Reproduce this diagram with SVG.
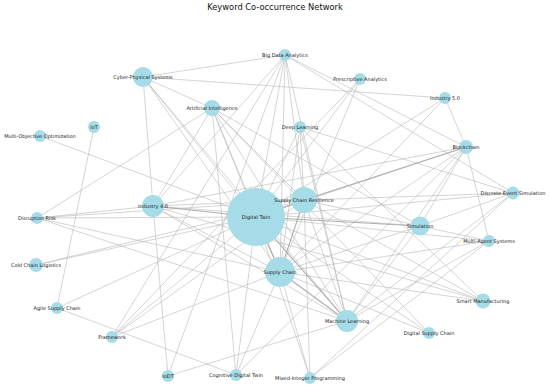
<svg xmlns="http://www.w3.org/2000/svg" width="550" height="388" viewBox="0 0 550 388">
<style>
.e{stroke:#b4b4b4;stroke-width:0.7;stroke-opacity:0.8;fill:none}
.w{stroke:#9a9a9a;stroke-width:1.1}
.n{fill:#a6dbe8}
.l{font-family:"DejaVu Sans",sans-serif;font-size:5px;fill:#222;text-anchor:middle;dominant-baseline:central}
.t{font-family:"DejaVu Sans",sans-serif;font-size:8.3px;fill:#111;text-anchor:middle}
</style>
<rect width="550" height="388" fill="#fff"/>
<text class="t" x="275" y="10">Keyword Co-occurrence Network</text>
<g id="edges">
<!-- CPS -->
<line class="e" x1="143" y1="77" x2="285" y2="55"/>
<line class="e" x1="143" y1="77" x2="445" y2="98"/>
<line class="e" x1="143" y1="77" x2="212" y2="108"/>
<line class="e" x1="143" y1="77" x2="153" y2="206"/>
<line class="e" x1="143" y1="77" x2="256" y2="217"/>
<line class="e" x1="143" y1="77" x2="280" y2="272"/>
<line class="e" x1="143" y1="77" x2="347" y2="321"/>
<!-- BDA -->
<line class="e" x1="285" y1="55" x2="256" y2="217"/>
<line class="e" x1="285" y1="55" x2="280" y2="272"/>
<line class="e" x1="285" y1="55" x2="304" y2="200"/>
<line class="e" x1="285" y1="55" x2="466" y2="147"/>
<line class="e" x1="285" y1="55" x2="153" y2="206"/>
<line class="e" x1="285" y1="55" x2="347" y2="321"/>
<line class="e" x1="285" y1="55" x2="513" y2="193"/>
<!-- PA -->
<line class="e" x1="360" y1="79" x2="112" y2="337"/>
<line class="e" x1="360" y1="79" x2="256" y2="217"/>
<line class="e" x1="360" y1="79" x2="280" y2="272"/>
<!-- I5 -->
<line class="e" x1="445" y1="98" x2="256" y2="217"/>
<line class="e" x1="445" y1="98" x2="280" y2="272"/>
<line class="e" x1="445" y1="98" x2="466" y2="147"/>
<!-- AI -->
<line class="e" x1="212" y1="108" x2="37" y2="218"/>
<line class="e" x1="212" y1="108" x2="256" y2="217"/>
<line class="e" x1="212" y1="108" x2="280" y2="272"/>
<line class="e" x1="212" y1="108" x2="347" y2="321"/>
<line class="e" x1="212" y1="108" x2="304" y2="200"/>
<line class="e" x1="212" y1="108" x2="420" y2="226"/>
<line class="e" x1="212" y1="108" x2="429" y2="333"/>
<line class="e" x1="212" y1="108" x2="236" y2="375"/>
<line class="e" x1="212" y1="108" x2="153" y2="206"/>
<!-- DL -->
<line class="e" x1="300" y1="127" x2="256" y2="217"/>
<line class="e" x1="300" y1="127" x2="280" y2="272"/>
<line class="e" x1="300" y1="127" x2="347" y2="321"/>
<line class="e" x1="300" y1="127" x2="513" y2="193"/>
<line class="e" x1="300" y1="127" x2="304" y2="200"/>
<line class="e" x1="300" y1="127" x2="483" y2="301"/>
<!-- IoT, MOO -->
<line class="e" x1="94" y1="127" x2="57" y2="308"/>
<line class="e" x1="40" y1="136" x2="256" y2="217"/>
<!-- DR -->
<line class="e" x1="37" y1="218" x2="153" y2="206"/>
<line class="e" x1="37" y1="218" x2="304" y2="200"/>
<line class="e" x1="37" y1="218" x2="256" y2="217"/>
<line class="e" x1="37" y1="218" x2="347" y2="321"/>
<line class="e" x1="37" y1="218" x2="280" y2="272"/>
<!-- CCL, ASC -->
<line class="e" x1="36" y1="265" x2="256" y2="217"/>
<line class="e" x1="36" y1="265" x2="304" y2="200"/>
<line class="e" x1="57" y1="308" x2="256" y2="217"/>
<line class="e" x1="57" y1="308" x2="236" y2="375"/>
<!-- FW -->
<line class="e" x1="112" y1="337" x2="256" y2="217"/>
<line class="e" x1="112" y1="337" x2="280" y2="272"/>
<line class="e" x1="112" y1="337" x2="285" y2="55"/>
<line class="e" x1="112" y1="337" x2="304" y2="200"/>
<!-- IoDT -->
<line class="e" x1="168" y1="376" x2="153" y2="206"/>
<line class="e" x1="168" y1="376" x2="347" y2="321"/>
<line class="e" x1="168" y1="376" x2="285" y2="55"/>
<!-- CDT -->
<line class="e" x1="236" y1="375" x2="256" y2="217"/>
<line class="e" x1="236" y1="375" x2="280" y2="272"/>
<line class="e" x1="236" y1="375" x2="466" y2="147"/>
<!-- MIP -->
<line class="e" x1="310" y1="378" x2="256" y2="217"/>
<line class="e" x1="310" y1="378" x2="304" y2="200"/>
<line class="e" x1="310" y1="378" x2="489" y2="241"/>
<line class="e" x1="310" y1="378" x2="513" y2="193"/>
<line class="e" x1="310" y1="378" x2="280" y2="272"/>
<!-- DSC -->
<line class="e" x1="429" y1="333" x2="256" y2="217"/>
<line class="e" x1="429" y1="333" x2="280" y2="272"/>
<!-- SM -->
<line class="e" x1="483" y1="301" x2="256" y2="217"/>
<line class="e" x1="483" y1="301" x2="280" y2="272"/>
<line class="e" x1="483" y1="301" x2="153" y2="206"/>
<line class="e" x1="483" y1="301" x2="304" y2="200"/>
<!-- DES -->
<line class="e" x1="513" y1="193" x2="256" y2="217"/>
<line class="e" x1="513" y1="193" x2="304" y2="200"/>
<line class="e" x1="513" y1="193" x2="347" y2="321"/>
<line class="e" x1="513" y1="193" x2="420" y2="226"/>
<!-- MAS -->
<line class="e" x1="489" y1="241" x2="420" y2="226"/>
<line class="e" x1="489" y1="241" x2="256" y2="217"/>
<line class="e" x1="489" y1="241" x2="280" y2="272"/>
<line class="e" x1="489" y1="241" x2="347" y2="321"/>
<line class="e" x1="489" y1="241" x2="466" y2="147"/>
<!-- BC -->
<line class="e w" x1="466" y1="147" x2="304" y2="200"/>
<line class="e" x1="466" y1="147" x2="256" y2="217"/>
<line class="e" x1="466" y1="147" x2="420" y2="226"/>
<line class="e" x1="466" y1="147" x2="347" y2="321"/>
<line class="e" x1="466" y1="147" x2="280" y2="272"/>
<line class="e" x1="466" y1="147" x2="153" y2="206"/>
<!-- SIM -->
<line class="e w" x1="420" y1="226" x2="256" y2="217"/>
<line class="e" x1="420" y1="226" x2="304" y2="200"/>
<line class="e" x1="420" y1="226" x2="280" y2="272"/>
<line class="e" x1="420" y1="226" x2="153" y2="206"/>
<line class="e" x1="420" y1="226" x2="347" y2="321"/>
<!-- I4 -->
<line class="e w" x1="153" y1="206" x2="256" y2="217"/>
<line class="e" x1="153" y1="206" x2="280" y2="272"/>
<line class="e" x1="153" y1="206" x2="304" y2="200"/>
<line class="e" x1="153" y1="206" x2="347" y2="321"/>
<!-- core -->
<line class="e w" x1="256" y1="217" x2="280" y2="272"/>
<line class="e w" x1="256" y1="217" x2="304" y2="200"/>
<line class="e w" x1="256" y1="217" x2="347" y2="321"/>
<line class="e w" x1="280" y1="272" x2="304" y2="200"/>
<line class="e w" x1="280" y1="272" x2="347" y2="321"/>
<line class="e" x1="304" y1="200" x2="347" y2="321"/>
</g>
<g id="n-dt"><circle class="n" cx="256" cy="217" r="29"/><text class="l" x="256" y="217">Digital Twin</text></g>
<g id="n-sc"><circle class="n" cx="280" cy="272" r="15"/><text class="l" x="280" y="272">Supply Chain</text></g>
<g id="n-scr"><circle class="n" cx="304" cy="200" r="13"/><text class="l" x="304" y="200">Supply Chain Resilience</text></g>
<g id="n-i4"><circle class="n" cx="153" cy="206" r="11"/><text class="l" x="153" y="206">Industry 4.0</text></g>
<g id="n-ml"><circle class="n" cx="347" cy="321" r="11"/><text class="l" x="347" y="321">Machine Learning</text></g>
<g id="n-sim"><circle class="n" cx="420" cy="226" r="9.5"/><text class="l" x="420" y="226">Simulation</text></g>
<g id="n-cps"><circle class="n" cx="143" cy="77" r="10"/><text class="l" x="143" y="77">Cyber-Physical Systems</text></g>
<g id="n-ai"><circle class="n" cx="212" cy="108" r="8"/><text class="l" x="212" y="108">Artificial Intelligence</text></g>
<g id="n-bda"><circle class="n" cx="285" cy="55" r="6"/><text class="l" x="285" y="55">Big Data Analytics</text></g>
<g id="n-pa"><circle class="n" cx="360" cy="79" r="6"/><text class="l" x="360" y="79">Prescriptive Analytics</text></g>
<g id="n-i5"><circle class="n" cx="445" cy="98" r="6"/><text class="l" x="445" y="98">Industry 5.0</text></g>
<g id="n-dl"><circle class="n" cx="300" cy="127" r="6"/><text class="l" x="300" y="127">Deep Learning</text></g>
<g id="n-iot"><circle class="n" cx="94" cy="127" r="6"/><text class="l" x="94" y="127">IoT</text></g>
<g id="n-moo"><circle class="n" cx="40" cy="136" r="6"/><text class="l" x="40" y="136">Multi-Objective Optimization</text></g>
<g id="n-bc"><circle class="n" cx="466" cy="147" r="7"/><text class="l" x="466" y="147">Blockchain</text></g>
<g id="n-des"><circle class="n" cx="513" cy="193" r="6.5"/><text class="l" x="513" y="193">Discrete Event Simulation</text></g>
<g id="n-dr"><circle class="n" cx="37" cy="218" r="6"/><text class="l" x="37" y="218">Disruption Risk</text></g>
<g id="n-mas"><circle class="n" cx="489" cy="241" r="6"/><text class="l" x="489" y="241">Multi-Agent Systems</text></g>
<g id="n-ccl"><circle class="n" cx="36" cy="265" r="7"/><text class="l" x="36" y="265">Cold Chain Logistics</text></g>
<g id="n-sm"><circle class="n" cx="483" cy="301" r="7.5"/><text class="l" x="483" y="301">Smart Manufacturing</text></g>
<g id="n-asc"><circle class="n" cx="57" cy="308" r="6"/><text class="l" x="57" y="308">Agile Supply Chain</text></g>
<g id="n-dsc"><circle class="n" cx="429" cy="333" r="6"/><text class="l" x="429" y="333">Digital Supply Chain</text></g>
<g id="n-fw"><circle class="n" cx="112" cy="337" r="6"/><text class="l" x="112" y="337">Framework</text></g>
<g id="n-iodt"><circle class="n" cx="168" cy="376" r="6"/><text class="l" x="168" y="376">IoDT</text></g>
<g id="n-cdt"><circle class="n" cx="236" cy="375" r="6"/><text class="l" x="236" y="375">Cognitive Digital Twin</text></g>
<g id="n-mip"><circle class="n" cx="310" cy="378" r="6"/><text class="l" x="310" y="378">Mixed-Integer Programming</text></g>
</svg>
